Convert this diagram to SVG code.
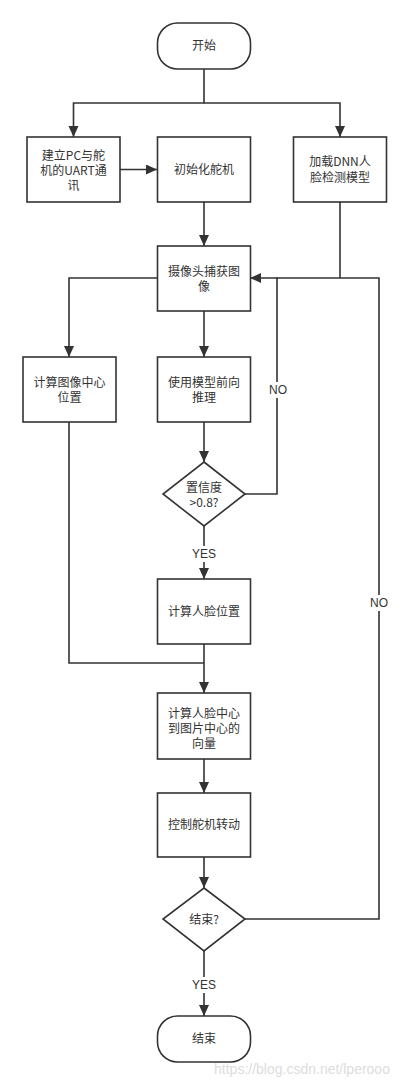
<svg xmlns="http://www.w3.org/2000/svg" width="410" height="1086" viewBox="0 0 410 1086">
<style>
.n{fill:#fff;stroke:#333;stroke-width:1.6}
.t{font-family:"Noto Sans CJK SC","Liberation Sans",sans-serif;font-size:12px;fill:#333;text-anchor:middle}
.c{fill:none;stroke:#333;stroke-width:1.6}
.lb{font-family:"Liberation Sans","Noto Sans CJK SC",sans-serif;font-size:12px;fill:#333;text-anchor:middle}
.bg{fill:#fff}
</style>
<defs>
<marker id="a" markerUnits="userSpaceOnUse" markerWidth="12" markerHeight="12" refX="11" refY="5" orient="auto">
<path d="M0,0 L11,5 L0,10 Z" fill="#333"/>
</marker>
</defs>
<rect width="410" height="1086" fill="#fff"/>
<g id="connectors">
<path class="c" d="M204,69 V103 H73.5 V137" marker-end="url(#a)"/>
<path class="c" d="M204,103 H340 V137" marker-end="url(#a)"/>
<path class="c" d="M120,169.5 H157" marker-end="url(#a)"/>
<path class="c" d="M204,202 V246" marker-end="url(#a)"/>
<path class="c" d="M340,202 V278"/>
<path class="c" d="M157,278 H69 V357" marker-end="url(#a)"/>
<path class="c" d="M204,311 V357" marker-end="url(#a)"/>
<path class="c" d="M204,422 V462" marker-end="url(#a)"/>
<path class="c" d="M245,494 H277 V278 H250" marker-end="url(#a)"/>
<path class="c" d="M204,526 V579" marker-end="url(#a)"/>
<path class="c" d="M69,422 V663 H204"/>
<path class="c" d="M204,644 V693" marker-end="url(#a)"/>
<path class="c" d="M204,759 V793" marker-end="url(#a)"/>
<path class="c" d="M204,857 V888" marker-end="url(#a)"/>
<path class="c" d="M245,919 H379 V278 H276"/>
<path class="c" d="M204,951 V1016" marker-end="url(#a)"/>
<rect class="bg" x="266" y="382" width="24" height="16"/>
<text class="lb" x="278" y="394">NO</text>
<rect class="bg" x="367" y="595" width="24" height="16"/>
<text class="lb" x="379" y="607">NO</text>
<rect class="bg" x="190" y="546" width="28" height="16"/>
<text class="lb" x="204" y="558">YES</text>
<rect class="bg" x="190" y="977" width="28" height="16"/>
<text class="lb" x="204" y="989">YES</text>
</g>
<g id="start">
<rect class="n" x="157.5" y="23" width="93" height="46" rx="20" ry="20"/>
<text class="t" x="204" y="50">开始</text>
</g>
<g id="uart">
<rect class="n" x="27" y="137" width="93" height="65"/>
<text class="t" x="73.5" y="160">建立PC与舵</text>
<text class="t" x="73.5" y="175">机的UART通</text>
<text class="t" x="73.5" y="190">讯</text>
</g>
<g id="init">
<rect class="n" x="157.5" y="137" width="93" height="65"/>
<text class="t" x="204" y="174">初始化舵机</text>
</g>
<g id="load">
<rect class="n" x="293.5" y="137" width="93" height="65"/>
<text class="t" x="340" y="166">加载DNN人</text>
<text class="t" x="340" y="182">脸检测模型</text>
</g>
<g id="capture">
<rect class="n" x="157.5" y="246" width="93" height="65"/>
<text class="t" x="204" y="276">摄像头捕获图</text>
<text class="t" x="204" y="291">像</text>
</g>
<g id="center">
<rect class="n" x="23" y="357" width="93" height="65"/>
<text class="t" x="69.5" y="387">计算图像中心</text>
<text class="t" x="69.5" y="402">位置</text>
</g>
<g id="infer">
<rect class="n" x="157.5" y="357" width="93" height="65"/>
<text class="t" x="204" y="387">使用模型前向</text>
<text class="t" x="204" y="402">推理</text>
</g>
<g id="conf">
<path class="n" d="M204,462 L245,494 L204,526 L163,494 Z"/>
<text class="t" x="204" y="492">置信度</text>
<text class="t" x="204" y="507">&gt;0.8?</text>
</g>
<g id="face">
<rect class="n" x="157.5" y="579" width="93" height="65"/>
<text class="t" x="204" y="616">计算人脸位置</text>
</g>
<g id="vector">
<rect class="n" x="157.5" y="693" width="93" height="66"/>
<text class="t" x="204" y="718">计算人脸中心</text>
<text class="t" x="204" y="733">到图片中心的</text>
<text class="t" x="204" y="748">向量</text>
</g>
<g id="control">
<rect class="n" x="157.5" y="793" width="93" height="64"/>
<text class="t" x="204" y="829">控制舵机转动</text>
</g>
<g id="endq">
<path class="n" d="M204,888 L245,919 L204,951 L163,919 Z"/>
<text class="t" x="204" y="924">结束?</text>
</g>
<g id="end">
<rect class="n" x="157.5" y="1016" width="93" height="46" rx="20" ry="20"/>
<text class="t" x="204" y="1043">结束</text>
</g>
<text x="302" y="1074" font-family="Liberation Sans,sans-serif" font-size="14" fill="#ddd" text-anchor="middle">https://blog.csdn.net/lperooo</text>
</svg>
